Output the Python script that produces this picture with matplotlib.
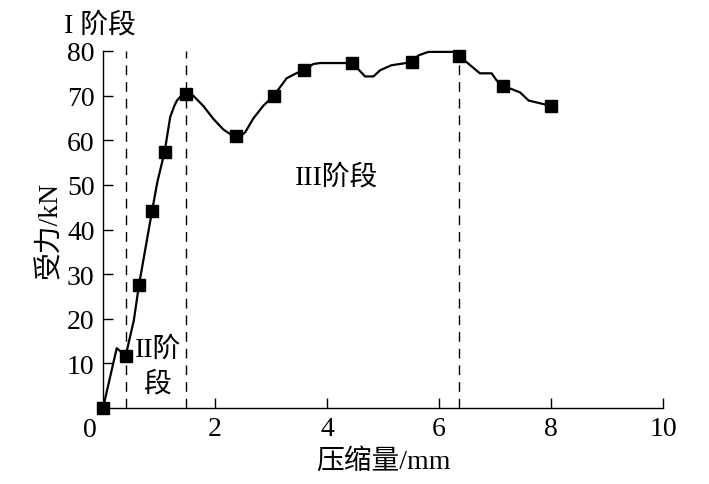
import matplotlib
matplotlib.use("Agg")
import matplotlib.pyplot as plt

# traced load-displacement curve (mm, kN)
curve_x = [0.0, 0.245, 0.405, 0.55, 0.643, 0.875, 0.97, 1.10, 1.20, 1.27, 1.32, 1.40, 1.48,
           1.61, 1.79, 1.97, 2.15, 2.28, 2.375, 2.47, 2.54, 2.68, 2.86, 3.05, 3.28, 3.45,
           3.59, 3.76, 3.88, 4.44, 4.53, 4.68, 4.83, 4.95, 5.15, 5.51, 5.63, 5.81, 6.26,
           6.36, 6.73, 6.94, 7.03, 7.15, 7.45, 7.60, 8.0]
curve_y = [0.0, 13.4, 11.7, 19.6, 27.6, 44.1, 50.6, 57.4, 65.2, 67.6, 68.9, 70.0, 70.4,
           70.0, 67.7, 64.8, 62.4, 61.3, 61.0, 61.1, 61.8, 64.8, 67.7, 70.0, 73.9, 75.0,
           75.8, 77.1, 77.3, 77.3, 76.3, 74.3, 74.3, 75.7, 76.8, 77.5, 79.0, 79.8, 79.8,
           78.9, 75.0, 75.0, 73.4, 72.2, 70.7, 68.9, 67.7]

# measured points (square markers)
mark_x = [0.0, 0.405, 0.643, 0.875, 1.10, 1.48, 2.375, 3.05, 3.59, 4.44, 5.51, 6.36, 7.15, 8.0]
mark_y = [0.0, 11.7, 27.6, 44.1, 57.4, 70.4, 61.0, 70.0, 75.8, 77.3, 77.5, 78.9, 72.2, 67.7]

# stage boundaries
stage_x = [0.405, 1.48, 6.36]

xticks = [2, 4, 6, 8, 10]
yticks = [10, 20, 30, 40, 50, 60, 70, 80]

FAM = ["Liberation Serif", "Noto Sans CJK SC"]
plt.rcParams["font.family"] = FAM
FS = 20

fig = plt.figure(figsize=(7.09, 4.85), dpi=100)
ax = fig.add_axes([103 / 709, 1 - 409 / 485, 560 / 709, 357 / 485])

for sx in stage_x:
    ax.plot([sx, sx], [0, 80], color="black", lw=1.0, ls=(0, (7, 5)))
ax.plot(curve_x, curve_y, color="black", lw=1.6, clip_on=False,
        solid_joinstyle="round")
ax.plot(mark_x, mark_y, ls="none", marker="s", ms=8, color="black", clip_on=False)

ax.set_xlim(0, 10)
ax.set_ylim(0, 80)
ax.set_xticks(xticks)
ax.set_yticks(yticks)
ax.tick_params(direction="in", length=7, width=1, labelsize=FS, pad=6)
for sp in ["top", "right"]:
    ax.spines[sp].set_visible(False)
for sp in ["left", "bottom"]:
    ax.spines[sp].set_linewidth(1.0)

ax.text(-0.23, -2.0, "0", ha="center", va="top", fontsize=FS)
ax.set_xlabel("压缩量/mm", fontsize=FS, labelpad=5)
ax.set_ylabel("受力/kN", fontsize=FS, labelpad=3)

fig.text(64 / 709, 1 - 26 / 485, "I 阶段", ha="left", va="center", fontsize=FS)
ax.text(3.43, 51.8, "III阶段", ha="left", va="center", fontsize=FS)
ax.text(0.57, 13.2, "II阶", ha="left", va="center", fontsize=FS)
ax.text(0.96, 5.4, "段", ha="center", va="center", fontsize=FS)

fig.savefig("out.png", dpi=100)
